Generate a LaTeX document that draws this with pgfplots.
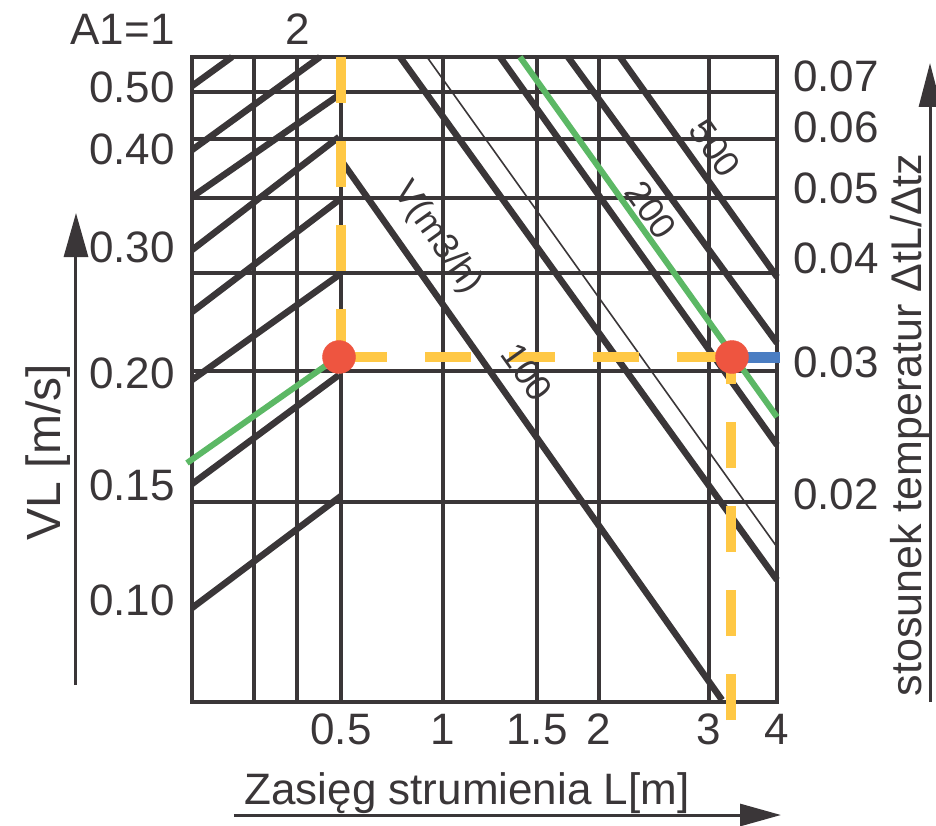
\documentclass[border=0pt]{standalone}
\usepackage{fontspec}
\setmainfont{Liberation Sans}
\usepackage{pgfplots}
\pgfplotsset{compat=1.18}
\usetikzlibrary{arrows.meta}
\definecolor{ink}{HTML}{3A3638}
\definecolor{gold}{HTML}{FFC845}
\definecolor{tomato}{HTML}{EE5540}
\definecolor{leaf}{HTML}{5CB865}
\definecolor{steel}{HTML}{4A7DC2}
\newcommand{\tickfont}{\fontsize{44}{48}\selectfont}
\newcommand{\smallfont}{\fontsize{36}{40}\selectfont}
\begin{document}
\begin{tikzpicture}
\begin{axis}[
  scale only axis, width=585pt, height=645pt,
  xmin=192, xmax=777, ymin=57, ymax=702, y dir=reverse,
  clip=false,
  axis line style={ink, line width=3.5pt},
  xtick={341,443,537,599,709,777},
  xticklabels={0.5,1,1.5,2,3,4},
  ytick={87,149,247,373,485,600},
  yticklabels={0.50,0.40,0.30,0.20,0.15,0.10},
  major tick length=0pt,
  minor xtick={254,297,341,443,537,599,709},
  minor ytick={92,139,198,273,371,502},
  minor tick length=0pt,
  grid=minor,
  minor grid style={ink, line width=3.3pt},
  ticklabel style={font=\tickfont, text=ink, inner sep=0pt},
  xticklabel style={yshift=-12pt},
  yticklabel style={xshift=-17pt},
]
% bounding frame
\path (axis cs:0,0) rectangle (axis cs:936,824);
% rising lines
\addplot[ink, line width=6.5pt] coordinates {(192,86) (232,57)};
\addplot[ink, line width=6.5pt] coordinates {(192,150) (320,57)};
\addplot[ink, line width=6.5pt] coordinates {(192,197) (339,95)};
\addplot[ink, line width=6.5pt] coordinates {(192,250) (339,137)};
\addplot[ink, line width=6.5pt] coordinates {(192,312) (339,200)};
\addplot[ink, line width=6.5pt] coordinates {(192,380) (339,275)};
\addplot[ink, line width=6.5pt] coordinates {(192,484) (339,375)};
\addplot[ink, line width=6.5pt] coordinates {(192,608) (341,496)};
% falling lines
\addplot[ink, line width=6.5pt] coordinates {(343,163) (722,700)};
\addplot[ink, line width=6.5pt] coordinates {(400,57) (777,580)};
\addplot[ink, line width=1.6pt] coordinates {(427,57) (777,547)};
\addplot[ink, line width=6.5pt] coordinates {(500,57) (777,445)};
\addplot[ink, line width=6.5pt] coordinates {(568,57) (777,343)};
\addplot[ink, line width=6.5pt] coordinates {(620,57) (777,277)};
% left dot
\addplot[only marks, mark=*, color=tomato, mark size=16.5pt] coordinates {(339,357)};
% green lines
\addplot[leaf, line width=6pt] coordinates {(520,57) (777,417)};
\addplot[leaf, line width=6pt] coordinates {(187,463) (338,357)};
% yellow dashed
\addplot[gold, line width=9.5pt, dash pattern=on 46pt off 38pt] coordinates {(341,57) (341,357)};
\addplot[gold, line width=9.5pt, dash pattern=on 46pt off 38pt] coordinates {(341,357) (731,357)};
\addplot[gold, line width=9.5pt, dash pattern=on 46pt off 38pt] coordinates {(731,720) (731,357)};
% right dot and blue bar
\addplot[only marks, mark=*, color=tomato, mark size=16.5pt] coordinates {(732,357)};
\addplot[steel, line width=11pt] coordinates {(731,357.5) (780,357.5)};
% labels
\node[font=\tickfont, text=ink, anchor=base west] at (axis cs:67,45) {A1=1};
\node[font=\tickfont, text=ink, anchor=base] at (axis cs:298,45) {2};
\node[font=\smallfont, text=ink, rotate=-54.5, inner sep=0pt] at (axis cs:437,238) {V(m3/h)};
\node[font=\smallfont, text=ink, rotate=-54.5, inner sep=0pt] at (axis cs:527,372) {100};
\node[font=\smallfont, text=ink, rotate=-54.5, inner sep=0pt] at (axis cs:651,210) {200};
\node[font=\smallfont, text=ink, rotate=-54.5, inner sep=0pt] at (axis cs:715,148) {500};
\node[font=\tickfont, text=ink, anchor=base west] at (axis cs:241,804) {Zasięg strumienia L[m]};
\draw[ink, line width=3pt, -{Triangle[length=41pt,width=22pt]}] (axis cs:234,815) -- (axis cs:781,815);
\node[font=\fontsize{48}{52}\selectfont, text=ink, rotate=90, anchor=base] at (axis cs:61,452) {VL [m/s]};
\draw[ink, line width=3pt, -{Triangle[length=44pt,width=24pt]}] (axis cs:76,685) -- (axis cs:76,213);
\node[font=\fontsize{43}{46}\selectfont, text=ink, rotate=90, anchor=base] at (axis cs:921,425) {stosunek temperatur ΔtL/Δtz};
\draw[overlay, ink, line width=3pt, -{Triangle[length=44pt,width=22pt]}] (axis cs:930,702) -- (axis cs:930,63);
\end{axis}
\begin{axis}[
  scale only axis, width=585pt, height=645pt,
  xmin=192, xmax=777, ymin=57, ymax=702, y dir=reverse,
  axis x line=none, axis y line*=right,
  y axis line style={draw=none},
  xtick=\empty,
  ytick={76,127,188,258,362,494},
  yticklabels={0.07,0.06,0.05,0.04,0.03,0.02},
  major tick length=0pt,
  ticklabel style={font=\tickfont, text=ink, inner sep=0pt},
  yticklabel style={xshift=16pt},
]
\end{axis}
\end{tikzpicture}
\end{document}
